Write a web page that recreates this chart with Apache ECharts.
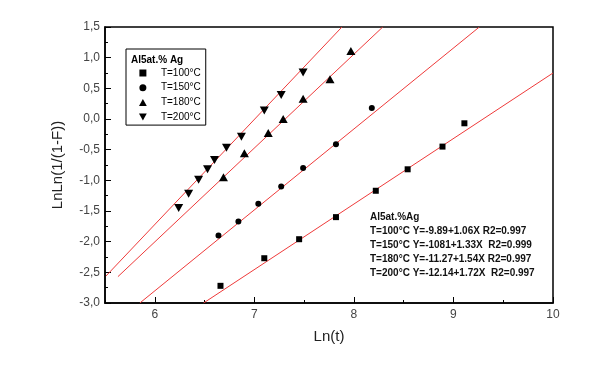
<!DOCTYPE html>
<html>
<head>
<meta charset="utf-8">
<script src="https://cdn.jsdelivr.net/npm/echarts@6/dist/echarts.min.js"></script>
<style>
  html, body { margin: 0; padding: 0; background: #fff; }
  #chart { width: 610px; height: 371px; }
</style>
</head>
<body>
<div id="chart"></div>
<script>
  // measured points, Ln(t) vs LnLn(1/(1-F))
  const t100x = [6.66, 7.10, 7.45, 7.82, 8.22, 8.54, 8.89, 9.11];
  const t100y = [-2.72, -2.27, -1.96, -1.60, -1.17, -0.82, -0.45, -0.07];
  const t150x = [6.64, 6.84, 7.04, 7.27, 7.49, 7.82, 8.18];
  const t150y = [-1.90, -1.67, -1.38, -1.10, -0.80, -0.41, 0.18];
  const t180x = [6.69, 6.90, 7.14, 7.29, 7.49, 7.76, 7.97];
  const t180y = [-0.95, -0.56, -0.23, 0.00, 0.33, 0.65, 1.11];
  const t200x = [6.24, 6.34, 6.44, 6.53, 6.60, 6.72, 6.87, 7.10, 7.27, 7.49];
  const t200y = [-1.45, -1.22, -0.99, -0.82, -0.67, -0.47, -0.29, 0.14, 0.39, 0.76];

  // fitted lines, end points
  const fit100 = [[6.49, -3.0], [10, 0.75]];
  const fit150 = [[5.85, -3.0], [9.26, 1.5]];
  const fit180 = [[5.63, -2.57], [8.29, 1.5]];
  const fit200 = [[5.51, -2.56], [7.88, 1.5]];

  const seriesNames = ['T=100°C', 'T=150°C', 'T=180°C', 'T=200°C'];
  const xMajor = [6, 7, 8, 9, 10];
  const legendTitle = 'Al5at.% Ag';
  const fitText = [
    'Al5at.%Ag',
    'T=100°C Y=-9.89+1.06X R2=0.997',
    'T=150°C Y=-1081+1.33X  R2=0.999',
    'T=180°C Y=-11.27+1.54X R2=0.997',
    'T=200°C Y=-12.14+1.72X  R2=0.997'
  ];

  const font = "'Liberation Sans', Arial, sans-serif";
  const zip = (xs, ys) => xs.map((x, i) => [x, ys[i]]);
  // path symbols keep their aspect in the legend
  const square = 'path://M0,0 L10,0 L10,10 L0,10 Z';
  const circle = 'path://M5,0 A5,5 0 1 1 4.99,0 Z';
  const triangle = 'path://M5,0 L10,9 L0,9 Z';
  const invTriangle = 'path://M0,0 L10,0 L5,9 Z';

  const markers = [
    { name: seriesNames[0], data: zip(t100x, t100y), symbol: square, symbolSize: 6 },
    { name: seriesNames[1], data: zip(t150x, t150y), symbol: circle, symbolSize: 6 },
    { name: seriesNames[2], data: zip(t180x, t180y), symbol: triangle, symbolSize: [9, 8] },
    { name: seriesNames[3], data: zip(t200x, t200y), symbol: invTriangle, symbolSize: [9, 8] }
  ];

  const fitLine = (name, data) => ({
    name: name,
    type: 'line',
    data: data,
    showSymbol: false,
    symbol: 'none',
    clip: true,
    silent: true,
    z: 1,
    lineStyle: { color: '#ee3a3a', width: 1 }
  });

  const myChart = echarts.init(document.getElementById('chart'));
  const options = {
    backgroundColor: '#fff',
    animation: false,
    textStyle: { fontFamily: font },
    grid: {
      left: 105,
      right: 57,
      top: 27,
      bottom: 68,
      show: true,
      borderColor: '#000',
      borderWidth: 1.5,
      backgroundColor: 'transparent'
    },
    legend: {
      data: markers.map(m => ({ name: m.name, icon: m.symbol })),
      orient: 'vertical',
      left: 126,
      top: 49,
      padding: [18, 5, 2, 13],
      itemWidth: 26,
      itemHeight: 7,
      itemGap: 2.7,
      borderColor: '#000',
      borderWidth: 1,
      backgroundColor: '#fff',
      selectedMode: false,
      textStyle: { fontFamily: font, fontSize: 10, color: '#000', lineHeight: 12 }
    },
    xAxis: [
      {
        type: 'value',
        min: 5.5,
        max: 10,
        interval: 0.5,
        name: 'Ln(t)',
        nameLocation: 'middle',
        nameGap: 26,
        nameTextStyle: { fontFamily: font, fontSize: 15, color: '#222' },
        axisLine: { show: true, onZero: false, lineStyle: { color: '#000', width: 1.5 } },
        axisTick: { show: true, inside: true, length: 3, lineStyle: { color: '#000' } },
        axisLabel: {
          fontFamily: font,
          fontSize: 12,
          color: '#444',
          margin: 6,
          formatter: v => (v % 1 === 0 ? String(v) : '')
        },
        splitLine: { show: false }
      },
      {
        type: 'value',
        min: 5.5,
        max: 10,
        position: 'bottom',
        axisLine: { show: false, onZero: false },
        axisTick: { show: true, inside: true, length: 6, customValues: xMajor, lineStyle: { color: '#000' } },
        axisLabel: { show: false },
        splitLine: { show: false }
      }
    ],
    yAxis: {
      type: 'value',
      min: -3,
      max: 1.5,
      interval: 0.5,
      name: 'LnLn(1/(1-F))',
      nameLocation: 'middle',
      nameGap: 40,
      nameTextStyle: { fontFamily: font, fontSize: 15, color: '#222' },
      axisLine: { show: true, onZero: false, lineStyle: { color: '#000', width: 1.5 } },
      axisTick: { show: true, inside: true, length: 6, lineStyle: { color: '#000' } },
      minorTick: { show: true, splitNumber: 2, length: 3, lineStyle: { color: '#000' } },
      axisLabel: {
        fontFamily: font,
        fontSize: 12,
        color: '#444',
        margin: 5,
        formatter: v => v.toFixed(1).replace('.', ',')
      },
      splitLine: { show: false }
    },
    graphic: [
      {
        type: 'text',
        left: 131,
        top: 55,
        z: 100,
        style: { text: legendTitle, font: 'bold 10px ' + font, fill: '#000' }
      },
      {
        type: 'text',
        left: 370,
        top: 210,
        z: 100,
        style: { text: fitText.join('\n'), font: 'bold 10px ' + font, fill: '#111', lineHeight: 14 }
      }
    ],
    series: [
      fitLine('fit100', fit100),
      fitLine('fit150', fit150),
      fitLine('fit180', fit180),
      fitLine('fit200', fit200)
    ].concat(markers.map(m => ({
      name: m.name,
      type: 'scatter',
      data: m.data,
      symbol: m.symbol,
      symbolSize: m.symbolSize,
      z: 3,
      itemStyle: { color: '#000', opacity: 1 }
    })))
  };
  myChart.setOption(options);
</script>
</body>
</html>
